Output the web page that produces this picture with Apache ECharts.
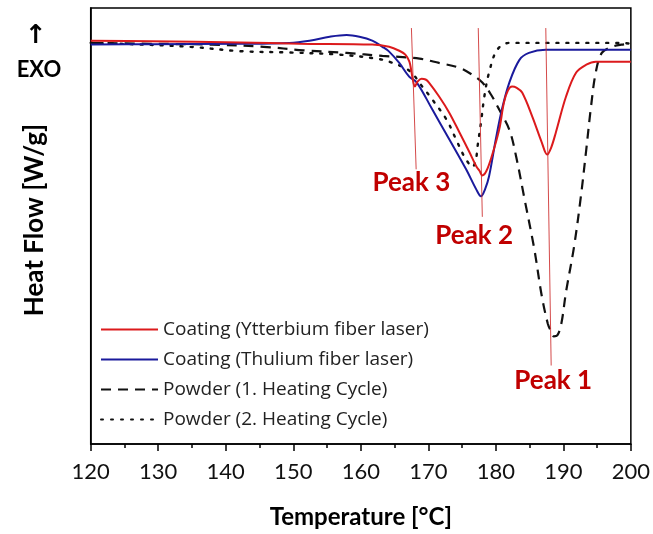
<!DOCTYPE html>
<html>
<head>
<meta charset="utf-8">
<script src="https://cdn.jsdelivr.net/npm/echarts@6/dist/echarts.min.js"></script>
<style>
html,body{margin:0;padding:0;background:#fff;}
#chart{width:653px;height:534px;}
</style>
</head>
<body>
<div id="chart"></div>
<script>
// Series names
const seriesNames = [
  'Coating (Ytterbium fiber laser)',
  'Coating (Thulium fiber laser)',
  'Powder (1. Heating Cycle)',
  'Powder (2. Heating Cycle)'
];
// x tick labels
const xTicks = [120, 130, 140, 150, 160, 170, 180, 190, 200];

// Coating (Ytterbium fiber laser) - temperature [°C] / heat flow (arb. units, exo up)
const tempYb = [120.0,128.8,142.1,150.9,161.7,164.2,165.7,166.6,167.2,167.5,167.7,168.0,168.4,169.0,169.6,170.1,171.6,173.1,174.6,176.1,177.1,177.6,178.0,178.6,179.4,180.5,181.2,181.8,182.4,183.1,183.9,185.4,186.8,187.6,188.2,188.9,190.4,191.9,193.4,194.8,200.0];
const heatYb = [92.5,92.4,92.1,91.8,91.6,91.1,90.2,89.3,87.7,85.4,83.6,82.0,83.1,83.8,83.6,82.9,79.7,76.0,71.5,66.9,63.7,62.6,61.6,62.6,66.0,72.1,78.3,81.1,82.0,81.7,80.6,75.1,69.2,66.4,68.0,71.5,79.7,85.2,87.0,87.7,87.7];

// Coating (Thulium fiber laser)
const tempTm = [120.0,128.8,142.1,149.4,152.4,155.4,157.9,159.8,161.7,163.2,164.2,165.7,167.2,168.3,170.6,173.1,175.6,177.1,177.8,178.4,179.0,180.0,180.9,182.0,183.5,184.9,187.4,200.0];
const heatTm = [91.6,91.7,91.8,92.0,92.5,93.4,93.8,93.4,92.5,91.1,90.0,87.4,84.2,82.9,76.7,69.9,63.0,58.4,56.8,58.4,61.4,69.9,76.7,82.9,88.1,89.7,90.4,90.4];

// Powder (1. Heating Cycle)
const tempP1 = [120.0,128.8,138.0,145.6,151.5,157.9,163.2,165.7,168.7,171.6,174.6,176.5,178.0,179.3,180.5,182.0,183.0,184.3,185.7,186.8,187.7,188.2,188.6,189.1,189.7,190.4,191.6,192.6,193.4,194.1,194.8,195.7,197.2,198.6,200.0];
const heatP1 = [92.0,91.8,91.6,91.1,90.3,89.7,89.0,88.8,88.4,87.4,86.3,84.7,82.9,80.1,76.7,72.1,66.0,55.8,44.7,34.0,27.6,25.8,24.7,24.9,27.6,34.9,45.4,56.8,67.6,77.4,85.2,89.7,91.1,91.6,91.8];

// Powder (2. Heating Cycle)
const tempP2 = [120.0,124.3,134.7,142.1,149.4,156.9,162.3,164.2,167.2,169.1,170.6,172.7,174.1,175.3,176.2,176.5,177.0,177.3,177.8,178.3,179.0,180.2,182.0,198.6,200.0];
const heatP2 = [92.0,91.8,91.1,90.1,89.8,89.3,88.4,87.7,85.6,82.0,79.0,74.4,69.9,66.0,63.9,63.5,64.8,68.3,73.7,79.7,85.2,90.4,92.0,92.0,91.8];

// Peak marker lines: [T_top, T_bottom], [y_top, y_bottom]
const peakNames = ['Peak 1', 'Peak 2', 'Peak 3'];
const peakLineT = [[187.4, 188.2], [177.4, 178.0], [167.5, 168.2]];
const peakLineY = [[95.4, 18.0], [95.4, 52.1], [95.4, 63.0]];
const peakLabelT = [188.5, 176.8, 167.5];
const peakLabelY = [14.6, 47.7, 60.0];

function zip(a, b) { return a.map((v, i) => [v, b[i]]); }

const FONT = 'Lato, "Open Sans", sans-serif';
const LEGFONT = '"Open Sans", Lato, sans-serif';
const RED = '#dc1a1c';
const BLUE = '#1a1a9c';
const PEAK = '#c00000';

const series = [
  {
    name: seriesNames[3], type: 'line', data: zip(tempP2, heatP2),
    showSymbol: false, symbol: 'none', smooth: 0.35, z: 2,
    lineStyle: { color: '#111', width: 2.4, type: [2, 8], cap: 'round' },
    itemStyle: { color: '#111' }
  },
  {
    name: seriesNames[2], type: 'line', data: zip(tempP1, heatP1),
    showSymbol: false, symbol: 'none', smooth: 0.35, z: 3,
    lineStyle: { color: '#111', width: 2.2, type: [10, 7] },
    itemStyle: { color: '#111' }
  },
  {
    name: seriesNames[1], type: 'line', data: zip(tempTm, heatTm),
    showSymbol: false, symbol: 'none', smooth: 0.35, z: 4,
    lineStyle: { color: BLUE, width: 2 },
    itemStyle: { color: BLUE }
  },
  {
    name: seriesNames[0], type: 'line', data: zip(tempYb, heatYb),
    showSymbol: false, symbol: 'none', smooth: 0.35, z: 5,
    lineStyle: { color: RED, width: 2 },
    itemStyle: { color: RED }
  }
];

peakLineT.forEach((t, i) => {
  series.push({
    name: 'marker' + i, type: 'line', data: [[t[0], peakLineY[i][0]], [t[1], peakLineY[i][1]]],
    showSymbol: false, symbol: 'none', silent: true, z: 6,
    lineStyle: { color: '#cc2a2a', width: 1, opacity: 0.85 }
  });
});

series.push({
  name: 'peakLabels', type: 'scatter', symbolSize: 0, silent: true, z: 7,
  itemStyle: { opacity: 1, color: PEAK },
  data: peakNames.map((n, i) => ({ value: [peakLabelT[i], peakLabelY[i]], name: n })),
  label: {
    show: true, position: 'inside', formatter: p => p.name, opacity: 1,
    color: PEAK, fontFamily: FONT, fontWeight: 'bold', fontSize: 26, textBorderWidth: 0
  }
});

const chart = echarts.init(document.getElementById('chart'), null, { renderer: 'canvas' });
chart.setOption({
  backgroundColor: '#fff',
  animation: false,
  grid: {
    left: 90.7, right: 21, top: 8, bottom: 88,
    show: true, borderColor: '#000', borderWidth: 1.5, backgroundColor: 'transparent'
  },
  legend: {
    data: seriesNames,
    orient: 'vertical', left: 100, top: 320,
    itemWidth: 57, itemHeight: 14, itemGap: 11,
    itemStyle: { opacity: 0, borderWidth: 0 },
    textStyle: { fontFamily: LEGFONT, fontSize: 19, color: '#222' },
    padding: 0
  },
  xAxis: {
    type: 'value', min: xTicks[0], max: xTicks[xTicks.length - 1], interval: 10,
    name: 'Temperature [°C]', nameLocation: 'middle', nameGap: 61,
    nameTextStyle: { fontFamily: FONT, fontWeight: 'bold', fontSize: 24, color: '#000' },
    axisLine: { show: true, lineStyle: { color: '#000', width: 1.5 } },
    axisTick: { show: true, inside: false, length: 7, lineStyle: { color: '#000', width: 1.5 } },
    minorTick: { show: true, splitNumber: 2, length: 4, lineStyle: { color: '#000', width: 1.5 } },
    axisLabel: { fontFamily: FONT, fontSize: 22, color: '#111', margin: 17 },
    splitLine: { show: false }
  },
  yAxis: {
    type: 'value', min: 0, max: 100,
    name: 'Heat Flow [W/g]', nameLocation: 'middle', nameGap: 43, nameRotate: 90,
    nameTextStyle: { fontFamily: FONT, fontWeight: 'bold', fontSize: 26, color: '#000', padding: [0, 0, 0, 12] },
    axisLine: { show: true, lineStyle: { color: '#000', width: 1.5 } },
    axisTick: { show: false },
    axisLabel: { show: false },
    splitLine: { show: false }
  },
  graphic: [
    { type: 'text', x: 36, y: 23, silent: true,
      style: { text: '↑', font: 'bold 26px "DejaVu Sans", sans-serif', fill: '#000', textAlign: 'center' } },
    { type: 'text', x: 39, y: 59, silent: true,
      style: { text: 'EXO', font: 'bold 22px ' + FONT, fill: '#000', textAlign: 'center' } }
  ],
  series: series
});
</script>
</body>
</html>
